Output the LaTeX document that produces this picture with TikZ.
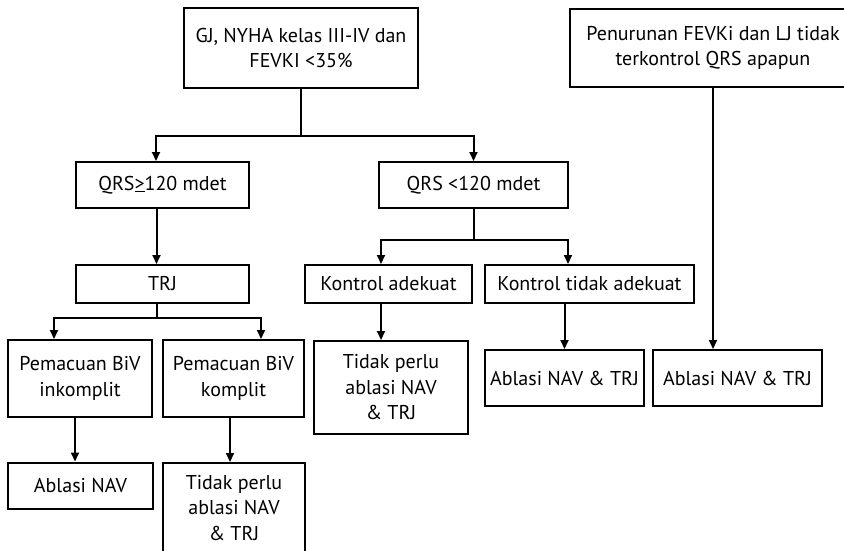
\documentclass[tikz,border=0pt]{standalone}
\usepackage{fontspec}
\setmainfont{PT Sans}
\usepackage{tikz}
\usetikzlibrary{shapes, arrows.meta, positioning}

\begin{document}
\begin{tikzpicture}[node distance=99pt]

% Define block styles
\tikzstyle{box} = [rectangle, draw=black, line width=2pt, align=center, inner sep=2pt, font=\fontsize{20}{25.5}\selectfont]
\tikzstyle{line} = [line width=2pt]
\tikzstyle{arrow} = [line width=2pt, -{Triangle[length=9pt,width=8pt]}]

\useasboundingbox (0,0) rectangle (844pt,-550pt);

% Define nodes
\node (gj) [box, minimum width=234pt, minimum height=80pt] at (301pt,-48pt) {GJ, NYHA kelas III-IV dan\\FEVKI <35\%};
\node (pen) [box, right of = gj, xshift=313pt, minimum width=286pt, minimum height=78pt] {Penurunan FEVKi dan LJ tidak\\terkontrol QRS apapun};

\node (qrsge) [box, below of = gj, yshift=-38pt, xshift=-138.5pt, minimum width=173pt, minimum height=46pt] {QRS\underline{>}120 mdet};
\node (qrslt) [box, right of = qrsge, xshift=212pt, minimum width=189pt, minimum height=46pt] {QRS <120 mdet};

\node (trj) [box, below of = qrsge, minimum width=173pt, minimum height=38pt] {TRJ};
\node (kad) [box, right of = trj, xshift=127pt, minimum width=167pt, minimum height=38pt] {Kontrol adekuat};
\node (ktad) [box, right of = kad, xshift=102pt, minimum width=209pt, minimum height=38pt] {Kontrol tidak adekuat};

\node (pin) [box, below of = trj, yshift=4.5pt, xshift=-82.5pt, minimum width=144pt, minimum height=77pt] {Pemacuan BiV\\inkomplit};
\node (pk) [box, right of = pin, xshift=54.5pt, minimum width=141pt, minimum height=77pt] {Pemacuan BiV\\komplit};
\node (tp1) [box, below of = kad, yshift=-4.5pt, xshift=2.5pt, minimum width=154pt, minimum height=93pt] {Tidak perlu\\ablasi NAV\\\& TRJ};
\node (abl1) [box, below of = ktad, yshift=5pt, xshift=-25pt, minimum width=159pt, minimum height=56pt] {Ablasi NAV \& TRJ};
\node (abl2) [box, right of = abl1, xshift=74pt, minimum width=169pt, minimum height=56pt] {Ablasi NAV \& TRJ};

\node (ablnav) [box, below of = pin, yshift=-8pt, xshift=0.5pt, minimum width=145pt, minimum height=46pt] {Ablasi NAV};
\node (tp2) [box, below of = pk, yshift=-30.5pt, xshift=0.5pt, minimum width=142pt, minimum height=90pt] {Tidak perlu\\ablasi NAV\\\& TRJ};

% Draw arrows
\draw [line] (gj.south) -- ++(0,-47pt) coordinate (f1);
\draw [arrow] (f1) -| ([xshift=-6.5pt]qrsge.north);
\draw [arrow] (f1) -| (qrslt.north);

\draw [arrow] ([xshift=-6pt]qrsge.south) -- ([xshift=-6pt]trj.north);

\draw [line] (qrslt.south) -- ++(0,-31pt) coordinate (f2);
\draw [arrow] (f2) -| ([xshift=-7.5pt]kad.north);
\draw [arrow] (f2) -| ([xshift=-21.5pt]ktad.north);

\draw [line] ([xshift=-5.5pt]trj.south) -- ++(0,-14pt) coordinate (f3);
\draw [arrow] (f3) -| ([xshift=-26pt]pin.north);
\draw [arrow] (f3) -| ([xshift=27.5pt]pk.north);

\draw [arrow] ([xshift=-5pt]pin.south) -- ([xshift=-5pt]pin.south |- ablnav.north);
\draw [arrow] ([xshift=-3.5pt]pk.south) -- ([xshift=-3.5pt]pk.south |- tp2.north);
\draw [arrow] ([xshift=-7.5pt]kad.south) -- ([xshift=-7.5pt]kad.south |- tp1.north);
\draw [arrow] (ktad.south -| abl1.north) -- (abl1.north);
\draw [arrow] (pen.south) -- (pen.south |- abl2.north);

\end{tikzpicture}
\end{document}
